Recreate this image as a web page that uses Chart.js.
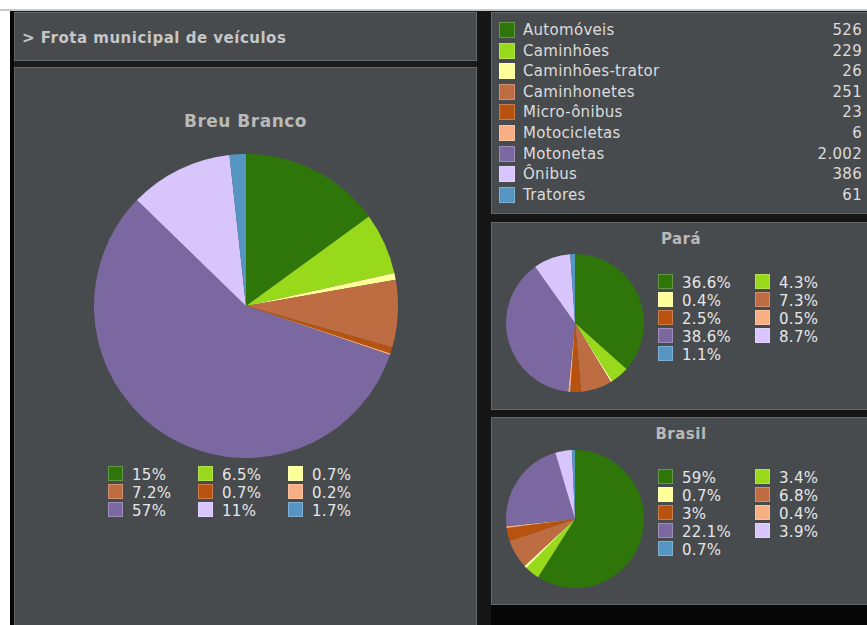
<!DOCTYPE html>
<html>
<head>
<meta charset="utf-8">
<script src="https://cdn.jsdelivr.net/npm/chart.js@4"></script>
<style>
  body { margin: 0; width: 867px; height: 625px; background: #fff; position: relative; overflow: hidden; font-family: "DejaVu Sans", Verdana, sans-serif; }
  .abs { position: absolute; }
  .panel { position: absolute; background: #484b4e; border: 1px solid #65686a; box-sizing: border-box; }
  .title { position: absolute; font-weight: bold; color: #b9b9b9; text-align: center; letter-spacing: 0.5px; }
  .sw { position: absolute; width: 15px; height: 15px; box-sizing: border-box; border: 1px solid rgba(255,255,255,0.25); }
  .lt { position: absolute; color: #e6e6e6; font-size: 15px; line-height: 16px; letter-spacing: 0.3px; white-space: nowrap; }
</style>
</head>
<body>
<div class="abs" style="left:0;top:9px;width:867px;height:2px;background:#c9c9c9"></div>
<div class="abs" style="left:10px;top:11px;width:857px;height:614px;background:#1c1c1c"></div>
<div class="abs" style="left:477px;top:11px;width:390px;height:614px;background:#161616"></div>
<div class="abs" style="left:491px;top:605px;width:376px;height:20px;background:#070707"></div>
<div class="abs" style="left:10px;top:11px;width:4px;height:614px;background:#080808"></div>

<div class="panel" style="left:14px;top:12px;width:463px;height:49px"></div>
<div class="abs" style="left:22px;top:29px;color:#c6c6c6;font-weight:bold;font-size:15px;letter-spacing:0.5px">&gt; Frota municipal de veículos</div>

<div class="panel" style="left:14px;top:67px;width:463px;height:570px"></div>
<div class="title" style="left:14px;top:111px;width:463px;font-size:17px">Breu Branco</div>
<canvas id="cBreu" class="abs" width="308" height="308" style="left:92px;top:152px"></canvas>
<div id="lgBreu"></div>

<div class="panel" style="left:491px;top:12px;width:380px;height:202px"></div>
<div id="lgMain"></div>

<div class="panel" style="left:491px;top:222px;width:380px;height:188px"></div>
<div class="title" style="left:491px;top:230px;width:380px;font-size:15px">Pará</div>
<canvas id="cPara" class="abs" width="142" height="142" style="left:504px;top:252px"></canvas>
<div id="lgPara"></div>

<div class="panel" style="left:491px;top:417px;width:380px;height:188px"></div>
<div class="title" style="left:491px;top:425px;width:380px;font-size:15px">Brasil</div>
<canvas id="cBrasil" class="abs" width="142" height="142" style="left:504px;top:448px"></canvas>
<div id="lgBrasil"></div>

<script>
const categorias = ["Automóveis", "Caminhões", "Caminhões-trator", "Caminhonetes", "Micro-ônibus", "Motocicletas", "Motonetas", "Ônibus", "Tratores"];
const frotaBreu = [526, 229, 26, 251, 23, 6, 2002, 386, 61];
const frotaBreuTxt = ["526", "229", "26", "251", "23", "6", "2.002", "386", "61"];
const pctBreu = ["15%", "6.5%", "0.7%", "7.2%", "0.7%", "0.2%", "57%", "11%", "1.7%"];
const pctPara = [36.6, 4.3, 0.4, 7.3, 2.5, 0.5, 38.6, 8.7, 1.1];
const pctBrasil = [59, 3.4, 0.7, 6.8, 3, 0.4, 22.1, 3.9, 0.7];
const cores = ["#2f760a", "#98d91b", "#ffff99", "#bd6d41", "#b8530f", "#f6ae82", "#7b68a0", "#d7c5fc", "#5595c2"];

const pintarPizza = (id, dados) => {
  new Chart(document.getElementById(id), {
    type: "pie",
    data: {
      labels: categorias,
      datasets: [{ data: dados, backgroundColor: cores, borderWidth: 0 }],
    },
    options: {
      responsive: false,
      animation: false,
      layout: { padding: 2 },
      plugins: { legend: { display: false }, tooltip: { enabled: false } },
    },
  });
};

pintarPizza("cBreu", frotaBreu);
pintarPizza("cPara", pctPara);
pintarPizza("cBrasil", pctBrasil);

// legendas em grade
const legenda = (id, textos, colunas, x0, dx, y0, dy) => {
  let html = "";
  textos.forEach((t, i) => {
    const c = i % colunas, r = Math.floor(i / colunas);
    const x = x0 + c * dx, y = y0 + r * dy;
    html += `<div class="sw" style="left:${x}px;top:${y}px;background:${cores[i]}"></div>`;
    html += `<div class="lt" style="left:${x + 24}px;top:${y + 1}px">${t}</div>`;
  });
  document.getElementById(id).innerHTML = html;
};

legenda("lgBreu", pctBreu, 3, 108, 90, 466, 18);
legenda("lgPara", pctPara.map((v) => v + "%"), 2, 658, 97, 274, 18);
legenda("lgBrasil", pctBrasil.map((v) => v + "%"), 2, 658, 97, 469, 18);

let h = "";
categorias.forEach((cat, i) => {
  const y = 22 + i * 20.6;
  h += `<div class="sw" style="left:499px;top:${y}px;width:16px;height:16px;background:${cores[i]}"></div>`;
  h += `<div class="lt" style="left:523px;top:${y}px;color:#dcdcdc">${cat}</div>`;
  h += `<div class="lt" style="right:5px;top:${y}px;color:#dcdcdc">${frotaBreuTxt[i]}</div>`;
});
document.getElementById("lgMain").innerHTML = h;
</script>
</body>
</html>
